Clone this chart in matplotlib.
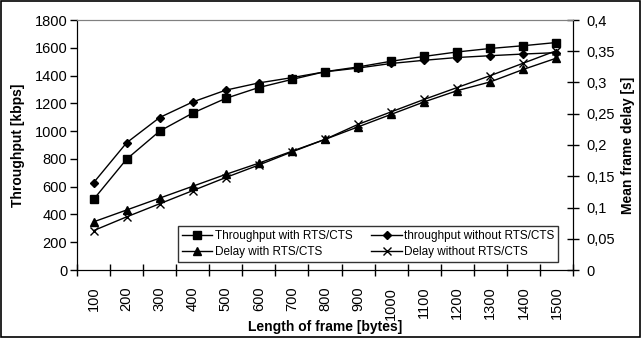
import matplotlib
matplotlib.use('Agg')
import matplotlib.pyplot as plt
from matplotlib.patches import Rectangle
from matplotlib.ticker import FixedLocator, FuncFormatter
import numpy as np

plt.rcParams['font.family'] = ['Liberation Sans', 'DejaVu Sans']

# Data
frame_len = [100, 200, 300, 400, 500, 600, 700, 800, 900, 1000, 1100, 1200, 1300, 1400, 1500]
tp_rts = [508, 798, 1000, 1130, 1236, 1314, 1372, 1428, 1462, 1503, 1538, 1570, 1595, 1615, 1638]
tp_no_rts = [628, 916, 1098, 1210, 1295, 1347, 1385, 1427, 1454, 1487, 1510, 1530, 1543, 1555, 1565]
delay_rts = [0.077, 0.096, 0.115, 0.134, 0.153, 0.171, 0.190, 0.209, 0.229, 0.249, 0.269, 0.287, 0.301, 0.321, 0.339]
delay_no_rts = [0.063, 0.085, 0.106, 0.127, 0.148, 0.168, 0.189, 0.209, 0.233, 0.253, 0.273, 0.292, 0.311, 0.331, 0.351]

labels = ['Throughput with RTS/CTS', 'throughput without RTS/CTS',
          'Delay with RTS/CTS', 'Delay without RTS/CTS']

fig = plt.figure(figsize=(6.42, 3.38), dpi=100)
ax = fig.add_axes([77 / 642, 1 - 270 / 338, 496 / 642, 250 / 338])
ax2 = ax.twinx()

x = np.arange(len(frame_len))
l1, = ax.plot(x, tp_rts, color='black', lw=1, marker='s', ms=6)
l2, = ax.plot(x, tp_no_rts, color='black', lw=1, marker='D', ms=4)
l3, = ax2.plot(x, delay_rts, color='black', lw=1, marker='^', ms=6)
l4, = ax2.plot(x, delay_no_rts, color='black', lw=1, marker='x', ms=6, mew=1)

ax.set_xlim(-0.5, len(x) - 0.5)
ax.set_ylim(0, 1800)
ax2.set_ylim(0, 0.4)
ax.set_yticks(np.arange(0, 1801, 200))
ax2.set_yticks(np.arange(0, 0.401, 0.05))
ax2.yaxis.set_major_formatter(FuncFormatter(
    lambda v, p: ('%g' % round(v, 2)).replace('.', ',')))

# category axis: labels at centres, ticks between categories
ax.set_xticks(x)
ax.set_xticklabels([str(v) for v in frame_len], rotation=90, fontsize=10.5)
ax.xaxis.set_minor_locator(FixedLocator(np.arange(-0.5, len(x), 1.0)))
ax.tick_params(axis='x', which='major', length=0, pad=12)
ax.tick_params(axis='x', which='minor', direction='inout', length=9, width=1)
ax.tick_params(axis='y', direction='out', length=5, width=1, labelsize=10.5, pad=2)
ax2.tick_params(axis='y', direction='inout', length=9, width=1, labelsize=10.5, pad=5)

for a in (ax, ax2):
    a.spines['top'].set_color('#808080')
    for s in ('left', 'right', 'bottom'):
        a.spines[s].set_color('black')

ax.set_ylabel('Throughput [kbps]', fontsize=10, fontweight='bold')
ax.yaxis.set_label_coords(-0.105, 0.5)
ax2.set_ylabel('Mean frame delay [s]', fontsize=10, fontweight='bold')
ax2.yaxis.set_label_coords(1.097, 0.5)
ax.set_xlabel('Length of frame [bytes]', fontsize=10, fontweight='bold')
ax.xaxis.set_label_coords(0.5, -0.2)

# row-major order like the original legend
leg = ax2.legend([l1, l3, l2, l4], [labels[0], labels[2], labels[1], labels[3]],
                 ncol=2, fontsize=8.5,
                 loc='lower left', bbox_to_anchor=(0.204, 0.032, 0.766, 0.148),
                 mode='expand', frameon=True, fancybox=False, borderpad=0.3,
                 handlelength=2.6, handletextpad=0.2, columnspacing=1.5,
                 labelspacing=0.4, borderaxespad=0)
leg.get_frame().set_edgecolor('black')
leg.get_frame().set_linewidth(1)

fig.patches.append(Rectangle((0.002, 0.003), 0.995, 0.993, transform=fig.transFigure,
                             fill=False, edgecolor='black', linewidth=1.2))

fig.savefig('out.png', dpi=100)
